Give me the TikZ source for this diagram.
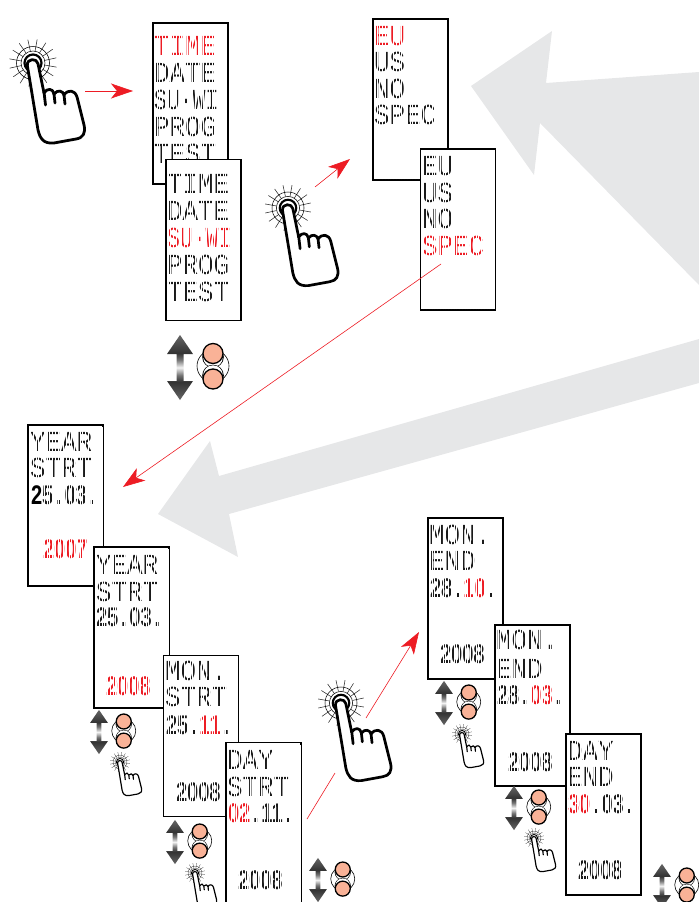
\documentclass[tikz,border=0pt]{standalone}
\usepackage{graphicx}
\usepackage{fontspec}
\usetikzlibrary{arrows.meta}
\newfontfamily\lcdfont{Liberation Mono}
\newfontfamily\lcdnumfont{Liberation Sans}
\definecolor{lcdred}{HTML}{ED1C24}
\definecolor{biggray}{HTML}{E6E7E8}
\definecolor{btn}{HTML}{F9B297}
\definecolor{lcdink}{HTML}{1A1A1A}
\pgfdeclareverticalshading{updn}{100bp}{color(0bp)=(black!60); color(25bp)=(black!60); color(39bp)=(black!80); color(44bp)=(black!55); color(50bp)=(black!5); color(56bp)=(black!55); color(61bp)=(black!80); color(75bp)=(black!60); color(100bp)=(black!60)}
\tikzset{
  screen/.style={draw=black,fill=white,line width=1.8pt,minimum width=75bp,inner sep=0pt},
  lcd/.style={anchor=base west,inner sep=0pt,outer sep=0pt,text=lcdink,font=\lcdfont\fontsize{26}{26}\selectfont},
  redline/.style={draw=lcdred,line width=0.6pt},
  redarrow/.style={redline,-{Stealth[length=22bp,width=15bp,inset=6bp,fill=lcdred]}},
  bigarrow/.style={fill=biggray,draw=none}
}
% word line: name, x, baseline y, x-stretch, text
\newcommand{\lcdline}[5]{\node[lcd] (#1) at (#2,#3) {\scalebox{#4}[1.12]{#5}};}
% narrow blocky digits: name, x, baseline y, text
\newcommand{\lcdnum}[4]{\node[lcd] (#1) at (#2,#3) {\scalebox{.775}[1.04]{\lcdnumfont\bfseries #4}};}
\newcommand{\dt}{\makebox[.556em][c]{.}}
\newcommand{\rd}[1]{\textcolor{lcdred}{#1}}
% fine white raster that breaks the strokes of the text above into matrix dots
\newcommand{\raster}[4]{\draw[white,line width=0.45pt,step=2.75] (#1,#2) grid (#3,#4);}
\newcommand{\handpic}[3]{%
\begin{scope}[shift={(#1,#2)},scale=#3]
  \foreach \a in {10,32.5,...,347.5}{\draw[line width=0.55pt*#3,black!85] (\a:12) -- (\a:24);}
  \draw[line width=0.55pt*#3] (0,0) circle (16.5);
  \draw[line width=0.55pt*#3] (0,0) circle (12);
  \draw[line width=2.2pt*#3] (0,0) circle (8.5);
  \draw[fill=white,line width=2.8pt*#3,line join=round,line cap=round]
    (-5.7,2.3) .. controls (-6,-5) and (4,-5) .. (5,.7) -- (11,30)
    .. controls (14,25) and (20,25) .. (21,31)
    .. controls (25,26) and (30,28) .. (31,32)
    .. controls (35,26) and (42,27) .. (44,34)
    -- (51,62) .. controls (53,70) and (50,75) .. (43,76) -- (21,80)
    .. controls (10,81) and (7,75) .. (5,67) -- cycle;
  \draw[line width=2.8pt*#3,line cap=round] (11,29) -- (12.5,42);
  \draw[line width=2.8pt*#3,line cap=round] (21,31) -- (22,40);
  \draw[line width=2.8pt*#3,line cap=round] (31,32) -- (32,41);
\end{scope}}
\newcommand{\updown}[4]{%
\begin{scope}[shift={(#1,#2)},scale=#3]
  \shade[shading=updn] (0,-32.5) -- (13,-13.5) -- (3.5,-13.5) -- (3.5,13.5) -- (13,13.5) -- (0,32.5) -- (-13,13.5) -- (-3.5,13.5) -- (-3.5,-13.5) -- (-13,-13.5) -- cycle;
\end{scope}
\begin{scope}[shift={(#1,#2)},scale=#4]
  \draw[line width=0.6pt] (33,-1.5) circle (16);
  \fill[black] (33,-10.5) circle (10.8);
  \fill[white] (33,-10.2) circle (9.8);
  \fill[black] (33,8) circle (10.8);
  \fill[white] (33,7.6) circle (9.8);
  \draw[fill=btn,line width=1.3pt] (33,-14) circle (10);
  \draw[fill=btn,line width=1.3pt] (33,11.5) circle (10);
\end{scope}}
\begin{document}
\begin{tikzpicture}[x=1bp,y=-1bp]
\useasboundingbox (0,0) rectangle (699,902);
% big grey arrows
\fill[bigarrow] (471,86) -- (552,31) -- (546,83) -- (699,72) -- (699,285) -- (540,123) -- (534,175) -- cycle;
\fill[bigarrow] (158,514) -- (210,441) -- (219,476) -- (699,339) -- (699,383) -- (229,514) -- (238,557) -- cycle;

% menu screens
\node[screen,minimum height=161bp] (s1) at (190.5,103.5) {};
\lcdline{s1a}{154}{55}{1}{\rd{TIME}}
\lcdline{s1b}{154}{82}{1}{DATE}
\lcdline{s1c}{154}{109}{.83}{SU·WI}
\lcdline{s1d}{154}{136}{1}{PROG}
\lcdline{s1e}{154}{163}{1}{TEST}
\raster{154}{25}{227}{182}
\node[screen,minimum height=161bp] (s2) at (203.5,240) {};
\lcdline{s2a}{167}{193}{1}{TIME}
\lcdline{s2b}{167}{220}{1}{DATE}
\lcdline{s2c}{167}{247}{.83}{\rd{SU·WI}}
\lcdline{s2d}{167}{274}{1}{PROG}
\lcdline{s2e}{167}{301}{1}{TEST}
\raster{167}{162}{240}{319}

\node[screen,minimum height=161bp] (s3) at (410.5,99.5) {};
\lcdline{s3a}{374}{45}{1}{\rd{EU}}
\lcdline{s3b}{374}{71}{1}{US}
\lcdline{s3c}{374}{98}{1}{NO}
\lcdline{s3d}{374}{124}{1}{SPEC}
\raster{374}{21}{447}{179}
\node[screen,minimum height=161bp] (s4) at (458,229.5) {};
\lcdline{s4a}{422}{175}{1}{EU}
\lcdline{s4b}{422}{202}{1}{US}
\lcdline{s4c}{422}{228}{1}{NO}
\lcdline{s4d}{422}{255}{1}{\rd{SPEC}}
\raster{422}{151}{494}{309}

% start screens
\node[screen,minimum height=161bp] (s5) at (65.5,505.5) {};
\lcdline{s5a}{30}{451}{1}{YEAR}
\lcdline{s5b}{30}{477}{1}{STRT}
\lcdnum{s5c}{42.2}{504}{5\dt 03\dt}
\lcdnum{s5d}{43}{558}{\rd{2007}}
\raster{29}{427}{102}{584}
\lcdnum{s5e}{31}{504}{\textcolor{black}{2}}
\node[screen,minimum height=161bp] (s6) at (131.5,627.5) {};
\lcdline{s6a}{96}{574}{1}{YEAR}
\lcdline{s6b}{96}{601}{1}{STRT}
\lcdnum{s6c}{96}{626}{25\dt 03\dt}
\lcdnum{s6d}{106}{695}{\rd{2008}}
\raster{95}{549}{168}{706}
\node[screen,minimum height=161bp] (s7) at (201,736) {};
\lcdline{s7a}{165}{680}{1}{MON.}
\lcdline{s7b}{165}{706}{1}{STRT}
\lcdnum{s7c}{166}{734}{25\dt\rd{11}\dt}
\lcdnum{s7d}{176}{801}{2008}
\raster{165}{658}{237}{815}
\node[screen,minimum height=161bp] (s8) at (263.5,823) {};
\lcdline{s8a}{227}{769}{1}{DAY}
\lcdline{s8b}{227}{796}{1}{STRT}
\lcdnum{s8c}{228}{822}{\rd{02}\dt 11\dt}
\lcdnum{s8d}{238}{889}{2008}
\raster{227}{745}{300}{902}

% end screens
\node[screen,minimum height=161bp] (s9) at (465.5,598.5) {};
\lcdline{s9a}{429}{544}{1}{MON.}
\lcdline{s9b}{429}{570}{1}{END}
\lcdnum{s9c}{430}{597}{28\dt\rd{10}\dt}
\lcdnum{s9d}{440}{663}{2008}
\raster{429}{520}{502}{677}
\node[screen,minimum height=161bp] (s10) at (532.5,705.5) {};
\lcdline{s10a}{496}{649}{1}{MON.}
\lcdline{s10b}{496}{678}{1}{END}
\lcdnum{s10c}{497}{704}{28\dt\rd{03}\dt}
\lcdnum{s10d}{508}{771}{2008}
\raster{496}{627}{569}{784}
\node[screen,minimum height=161bp] (s11) at (603.5,814.5) {};
\lcdline{s11a}{567}{760}{1}{DAY}
\lcdline{s11b}{567}{786}{1}{END}
\lcdnum{s11c}{568}{813}{\rd{30}\dt 03\dt}
\lcdnum{s11d}{578}{879}{2008}
\raster{567}{736}{640}{893}

% hands
\handpic{33}{63}{1}
\handpic{288}{208}{.97}
\handpic{341}{703}{.97}
\handpic{120}{762}{.42}
\handpic{195}{873}{.42}
\handpic{462}{734}{.42}
\handpic{534}{838}{.42}

% up/down buttons
\updown{180}{367.5}{1}{1}
\updown{99}{732}{.68}{.75}
\updown{175}{842}{.68}{.75}
\updown{318}{880}{.68}{.75}
\updown{444}{703}{.68}{.75}
\updown{514}{808}{.68}{.75}
\updown{662}{886}{.68}{.75}

% red connectors
\coordinate (r1a) at (85,91); \coordinate (r1b) at (133,91);
\coordinate (r2a) at (315,187); \coordinate (r2b) at (350,159);
\coordinate (r3a) at (441,264); \coordinate (r3b) at (123,487);
\coordinate (r4a) at (307,819); \coordinate (r4b) at (335,773);
\coordinate (r5a) at (366,718); \coordinate (r5b) at (419,632);
\draw[redarrow] (r1a) -- (r1b);
\draw[redarrow] (r2a) -- (r2b);
\draw[redarrow] (r3a) -- (r3b);
\draw[redline] (r4a) -- (r4b);
\draw[redarrow] (r5a) -- (r5b);
\end{tikzpicture}
\end{document}
